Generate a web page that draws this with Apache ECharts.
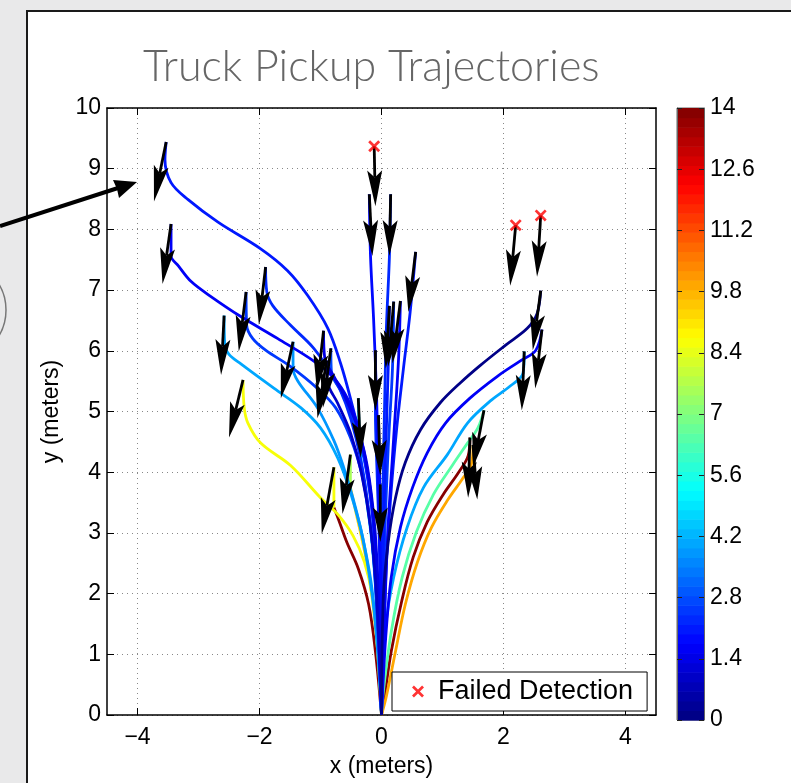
<!DOCTYPE html>
<html><head><meta charset="utf-8">
<script src="https://cdn.jsdelivr.net/npm/echarts@6/dist/echarts.min.js"></script>
<style>
html,body{margin:0;padding:0;background:#e9e9ea;width:791px;height:783px;overflow:hidden;}
#panel{position:absolute;left:26px;top:10px;width:820px;height:820px;background:#fff;border:2px solid #1a1a1a;box-sizing:border-box;}
#chart{position:absolute;left:0;top:0;width:791px;height:783px;}
</style></head>
<body><div id="panel"></div><div id="chart"></div>
<script>
// ---- data (meters); third value = colour value (speed), carried until changed ----
const traj01 = [[-3.53,9.44,2.0],[-3.55,9.15],[-3.45,8.77],[-3.17,8.49],[-2.68,8.12],[-1.98,7.68],[-1.54,7.32],[-1.21,6.91],[-0.88,6.37],[-0.67,5.79],[-0.51,5.22],[-0.31,4.40],[-0.16,3.42],[-0.08,2.27],[-0.03,1.13],[0,0]];
const traj02 = [[-3.45,8.09,1.7],[-3.45,7.56],[-3.33,7.40],[-3.12,7.14],[-2.79,6.89],[-2.30,6.56],[-1.70,6.20],[-1.11,5.83],[-0.78,5.55],[-0.56,5.22],[-0.38,4.73],[-0.21,3.91],[-0.11,2.93],[-0.05,1.62],[0,0]];
const traj03 = [[-1.90,7.38,2.3],[-1.88,6.97],[-1.78,6.74],[-1.49,6.42],[-1.11,6.04],[-0.78,5.55],[-0.59,5.14],[-0.42,4.57],[-0.26,3.75],[-0.13,2.60],[-0.05,1.29],[0,0]];
const traj04 = [[-2.22,6.97,2.6],[-2.21,6.42],[-2.11,6.20],[-1.90,6.01],[-1.49,5.74],[-1.05,5.38],[-0.75,5.06],[-0.51,4.57],[-0.31,3.91],[-0.16,2.93],[-0.07,1.62],[0,0]];
const traj05 = [[-2.58,6.58,4.0],[-2.57,6.12],[-2.50,5.94],[-2.30,5.78],[-1.76,5.38],[-1.32,5.06],[-1.00,4.73],[-0.72,4.24],[-0.51,3.67],[-0.31,2.93],[-0.15,1.95],[-0.05,0.97],[0,0]];
const traj06 = [[-2.27,5.52,8.7],[-2.25,5.06],[-2.19,4.81],[-1.98,4.48],[-1.49,4.11],[-1.00,3.58],[-0.72,3.31],[-0.47,2.96],[-0.28,2.52],[-0.15,1.95],[-0.07,1.13],[0,0]];
const traj07 = [[-1.45,6.15,3.8],[-1.45,5.71],[-1.37,5.50],[-1.05,5.06],[-0.78,4.52],[-0.62,4.08],[-0.47,3.58],[-0.31,2.93],[-0.16,2.11],[-0.07,1.13],[0,0]];
const traj08 = [[-0.95,6.33,1.5],[-0.93,5.88],[-0.78,5.58],[-0.59,5.22],[-0.39,4.73],[-0.23,4.08],[-0.11,3.09],[-0.05,1.95],[0,0]];
const traj09 = [[-0.83,6.04,2.7],[-0.82,5.63],[-0.67,5.35],[-0.47,4.89],[-0.29,4.24],[-0.16,3.42],[-0.07,2.27],[0,0]];
const traj10 = [[-0.90,5.84,1.0],[-0.88,5.47],[-0.72,5.14],[-0.51,4.65],[-0.33,3.99],[-0.18,3.09],[-0.08,1.95],[0,0]];
const traj11 = [[-0.78,4.08,8.7],[-0.78,3.42,13.8],[-0.70,3.21],[-0.57,2.85],[-0.38,2.41],[-0.21,1.82],[-0.10,1.05],[0,0]];
const traj12 = [[-0.51,4.29,7.5],[-0.51,3.75,9.3],[-0.42,3.34],[-0.31,2.85],[-0.20,2.27],[-0.10,1.46],[-0.03,0.64],[0,0]];
const traj13 = [[-0.38,5.22,4.6],[-0.34,4.24],[-0.25,3.58],[-0.15,2.77],[-0.07,1.62],[0,0]];
const traj14 = [[-0.10,6.01,2.4],[-0.10,5.01],[-0.07,3.91],[-0.03,2.60],[0,0]];
const traj15 = [[-0.05,4.94,1.9],[-0.03,3.91],[-0.02,2.60],[0,0]];
const traj16 = [[-0.02,3.80,3.0],[-0.02,2.88],[0,1.62],[0,0]];
const traj17 = [[-0.20,8.58,1.8],[-0.18,7.56],[-0.13,6.53],[-0.08,5.22],[-0.05,3.91],[-0.02,2.27],[0,0]];
const traj18 = [[0.15,8.58,2.2],[0.13,7.56],[0.08,6.37],[0.05,5.06],[0.02,3.58],[0,1.95],[0,0]];
const traj19 = [[0.13,6.74,2.0],[0.11,5.71],[0.07,4.40],[0.03,2.77],[0,0]];
const traj20 = [[0.20,6.81,2.5],[0.18,5.71],[0.11,4.40],[0.05,2.77],[0,0]];
const traj21 = [[0.31,6.82,1.6],[0.28,5.88],[0.20,4.57],[0.10,2.93],[0,0]];
const traj22 = [[0.56,7.63,2.0],[0.47,6.64],[0.36,5.71],[0.25,4.73],[0.15,3.58],[0.07,2.27],[0,0]];
const traj23 = [[2.61,6.99,0.2],[2.55,6.61],[2.39,6.37],[2.03,6.09],[1.62,5.76],[1.29,5.47],[0.96,5.14],[0.64,4.70],[0.39,4.16],[0.23,3.58],[0.11,2.85],[0.03,1.95],[0,0]];
const traj24 = [[2.63,6.35,1.7],[2.53,6.01],[2.27,5.83],[1.90,5.58],[1.45,5.22],[1.05,4.81],[0.75,4.32],[0.51,3.75],[0.31,3.09],[0.16,2.27],[0.07,1.29],[0,0]];
const traj25 = [[2.34,5.99,4.0],[2.32,5.63],[2.11,5.42],[1.78,5.17],[1.41,4.81],[1.08,4.29],[0.69,3.75],[0.42,3.09],[0.20,2.27],[0.07,1.46],[0,0]];
const traj26 = [[1.68,5.02,6.5],[1.58,4.73],[1.39,4.45],[1.16,4.11],[0.85,3.63],[0.57,3.01],[0.34,2.27],[0.16,1.37],[0.03,0.39],[0,0]];
const traj27 = [[1.45,4.57,13.8],[1.42,4.27],[1.26,3.99],[1.01,3.63],[0.75,3.18],[0.52,2.60],[0.33,1.87],[0.16,1.05],[0.05,0.31],[0,0]];
const traj28 = [[1.50,4.45,10.0],[1.47,4.12],[1.32,3.88],[1.09,3.55],[0.82,3.09],[0.59,2.52],[0.39,1.82],[0.23,1.05],[0.08,0.31],[0,0]];

// heading arrows: tail x, tail y, tip x, tip y
const headingArrows = [
  [-3.53,9.44,-3.73,8.46],[-3.45,8.09,-3.59,7.10],[-1.90,7.38,-2.01,6.43],[-2.22,6.97,-2.34,5.99],
  [-2.58,6.58,-2.63,5.60],[-2.27,5.52,-2.50,4.57],[-1.45,6.15,-1.65,5.22],[-0.95,6.33,-1.06,5.35],
  [-0.83,6.04,-0.96,5.06],[-0.90,5.84,-1.05,4.89],[-0.78,4.08,-0.98,2.98],[-0.51,4.29,-0.64,3.31],
  [-0.38,5.22,-0.34,4.24],[-0.10,6.01,-0.10,5.01],[-0.05,4.94,-0.02,3.94],[-0.02,3.80,-0.02,2.85],
  [-0.20,8.58,-0.15,7.56],[0.15,8.58,0.13,7.56],[0.13,6.74,0.07,5.71],[0.20,6.81,0.11,5.74],
  [0.31,6.82,0.18,5.79],[0.56,7.63,0.44,6.64],[2.61,6.99,2.48,6.01],[2.63,6.35,2.52,5.38],
  [2.34,5.99,2.30,5.02],[1.68,5.02,1.50,4.08],[1.45,4.57,1.42,3.58],[1.50,4.45,1.57,3.55]
];
const failedArrows = [[-0.12,9.37,-0.10,8.38],[2.20,8.07,2.11,7.07],[2.61,8.23,2.55,7.22]];
const failedDetections = [[-0.12,9.37],[2.20,8.07],[2.61,8.23]];

const xTicks = [-4,-2,0,2,4];
const colorbarMin = 0, colorbarMax = 14, colorbarStep = 1.4, colorLevels = 64;

// ---- helpers ----
function jet(v){
  const t = Math.min(1, Math.max(0, (v - colorbarMin)/(colorbarMax - colorbarMin)));
  const i = Math.min(colorLevels-1, Math.floor(t*colorLevels));
  const tt = (i+0.5)/colorLevels;
  const f = x => Math.round(255*Math.min(1, Math.max(0, x)));
  return 'rgb(' + f(1.5-Math.abs(4*tt-3)) + ',' + f(1.5-Math.abs(4*tt-2)) + ',' + f(1.5-Math.abs(4*tt-1)) + ')';
}
function splitByValue(traj){
  const segs = []; let cur = null;
  traj.forEach(p => {
    const xy = [p[0], p[1]];
    if (p.length > 2 && (!cur || p[2] !== cur.v)) {
      if (cur) cur.pts.push(xy);
      cur = {v: p[2], pts: [xy]}; segs.push(cur);
    } else cur.pts.push(xy);
  });
  return segs;
}
const allTraj = [traj01,traj02,traj03,traj04,traj05,traj06,traj07,traj08,traj09,traj10,traj11,traj12,traj13,traj14,
  traj15,traj16,traj17,traj18,traj19,traj20,traj21,traj22,traj23,traj24,traj25,traj26,traj27,traj28];
let segments = [];
allTraj.forEach(t => segments = segments.concat(splitByValue(t)));
segments.sort((a,b) => b.v - a.v);

const colorCells = [];
for (let i = 0; i < colorLevels; i++) {
  const lo = colorbarMin + (colorbarMax-colorbarMin)*i/colorLevels;
  const hi = colorbarMin + (colorbarMax-colorbarMin)*(i+1)/colorLevels;
  colorCells.push([lo, hi, (lo+hi)/2]);
}

const FONT = '"Liberation Sans", Arial, Helvetica, sans-serif';
const minus = v => (v < 0 ? '\u2212' + Math.abs(v) : String(v));
const xMark = 'path://M0,1.6L1.6,0L5,3.4L8.4,0L10,1.6L6.6,5L10,8.4L8.4,10L5,6.6L1.6,10L0,8.4L3.4,5Z';

function arrowItem(params, api){
  const a = api.coord([api.value(0), api.value(1)]);
  const b = api.coord([api.value(2), api.value(3)]);
  const dx = b[0]-a[0], dy = b[1]-a[1], L = Math.hypot(dx,dy) || 1;
  const ux = dx/L, uy = dy/L, nx = -uy, ny = ux;
  const h = Math.min(36, L*0.6), w = 7.5;
  const bx = b[0]-ux*h, by = b[1]-uy*h;
  const nt = [bx+ux*h*0.2, by+uy*h*0.2];
  return {type:'group', children:[
    {type:'line', shape:{x1:a[0], y1:a[1], x2:nt[0], y2:nt[1]}, style:{stroke:'#000', lineWidth:2.8}},
    {type:'polygon', shape:{points:[b,[bx+nx*w,by+ny*w],nt,[bx-nx*w,by-ny*w]]}, style:{fill:'#000'}}
  ]};
}

const series = [];
segments.forEach(s => series.push({
  type:'line', xAxisIndex:0, yAxisIndex:0, data:s.pts, symbol:'none', smooth:0.35,
  lineStyle:{color:jet(s.v), width:2.8}, silent:true, animation:false, z:2
}));
series.push({type:'custom', xAxisIndex:0, yAxisIndex:0, data:headingArrows, renderItem:arrowItem, silent:true, animation:false, z:5});
series.push({type:'custom', xAxisIndex:0, yAxisIndex:0, data:failedArrows, renderItem:arrowItem, silent:true, animation:false, z:5});
series.push({type:'scatter', name:'Failed Detection', xAxisIndex:0, yAxisIndex:0, data:failedDetections,
  symbol:xMark, symbolSize:12, itemStyle:{color:'#ff0000'}, silent:true, animation:false, z:6});
series.push({type:'custom', xAxisIndex:2, yAxisIndex:2, data:colorCells, silent:true, animation:false,
  renderItem:(params, api) => {
    const p0 = api.coord([0, api.value(0)]), p1 = api.coord([1, api.value(1)]);
    return {type:'rect', shape:{x:p0[0], y:p1[1], width:p1[0]-p0[0], height:p0[1]-p1[1]+0.6},
      style:{fill:jet(api.value(2))}};
  }});

const axisLineBlack = {onZero:false, lineStyle:{color:'#000', width:1.5}};
const chart = echarts.init(document.getElementById('chart'), null, {renderer:'canvas'});
chart.setOption({
  backgroundColor:'transparent',
  animation:false,
  title:{text:'Truck Pickup Trajectories', left:138, top:41,
    textStyle:{fontFamily:'Lato, "Open Sans", sans-serif', fontWeight:300, fontSize:43, color:'#666'}},
  legend:{data:[{name:'Failed Detection', icon:xMark}], left:392, top:672, itemWidth:30, itemHeight:12,
    padding:[6,14,6,20], borderColor:'#000', borderWidth:1, backgroundColor:'#fff', selectedMode:false,
    textStyle:{fontFamily:FONT, fontSize:27, color:'#000'}},
  grid:[{left:107, top:108, width:549, height:611, show:false},
        {left:677, top:108, width:27, height:612, show:true, borderColor:'#666', borderWidth:1, backgroundColor:'transparent'}],
  xAxis:[
    {type:'value', gridIndex:0, position:'bottom', min:-4.5, max:4.5,
      axisLine:axisLineBlack, axisTick:{inside:true, length:7, customValues:xTicks, lineStyle:{color:'#000'}},
      axisLabel:{customValues:xTicks, fontFamily:FONT, fontSize:23, color:'#000', margin:11, formatter:minus},
      splitLine:{show:true, lineStyle:{color:'#888', type:[1,4], width:1}},
      name:'x (meters)', nameLocation:'middle', nameGap:40, nameTextStyle:{fontFamily:FONT, fontSize:23, color:'#000'}},
    {type:'value', gridIndex:0, position:'top', min:-4.5, max:4.5,
      axisLine:axisLineBlack, axisTick:{inside:true, length:7, customValues:xTicks, lineStyle:{color:'#000'}},
      axisLabel:{show:false}, splitLine:{show:false}},
    {type:'value', gridIndex:1, min:0, max:1, show:false}
  ],
  yAxis:[
    {type:'value', gridIndex:0, position:'left', min:0, max:10, interval:1,
      axisLine:axisLineBlack, axisTick:{inside:true, length:7, lineStyle:{color:'#000'}},
      axisLabel:{fontFamily:FONT, fontSize:23, color:'#000', margin:6},
      splitLine:{show:true, lineStyle:{color:'#888', type:[1,4], width:1}},
      name:'y (meters)', nameLocation:'middle', nameGap:44, nameRotate:90, nameTextStyle:{fontFamily:FONT, fontSize:23, color:'#000'}},
    {type:'value', gridIndex:0, position:'right', min:0, max:10, interval:1,
      axisLine:axisLineBlack, axisTick:{inside:true, length:7, lineStyle:{color:'#000'}},
      axisLabel:{show:false}, splitLine:{show:false}},
    {type:'value', gridIndex:1, position:'right', min:colorbarMin, max:colorbarMax, interval:colorbarStep,
      axisLine:{show:true, onZero:false, lineStyle:{color:'#666', width:1}}, axisTick:{inside:true, length:5, lineStyle:{color:'#222'}},
      axisLabel:{fontFamily:FONT, fontSize:23, color:'#000', margin:6, formatter:v => String(Math.round(v*10)/10)},
      splitLine:{show:false}, z:10},
    {type:'value', gridIndex:1, position:'left', min:colorbarMin, max:colorbarMax, interval:colorbarStep,
      axisLine:{show:true, onZero:false, lineStyle:{color:'#666', width:1}}, axisTick:{inside:true, length:5, lineStyle:{color:'#222'}},
      axisLabel:{show:false}, splitLine:{show:false}, z:10}
  ],
  graphic:[
    {type:'circle', shape:{cx:-44, cy:310, r:50}, style:{fill:'none', stroke:'#777', lineWidth:1.5}, z:100},
    {type:'line', shape:{x1:0, y1:226, x2:118, y2:188}, style:{stroke:'#000', lineWidth:4}, z:100},
    {type:'polygon', shape:{points:[[137,182],[113,180],[117,189],[119,198]]}, style:{fill:'#000'}, z:100}
  ],
  series:series
});
</script></body></html>
